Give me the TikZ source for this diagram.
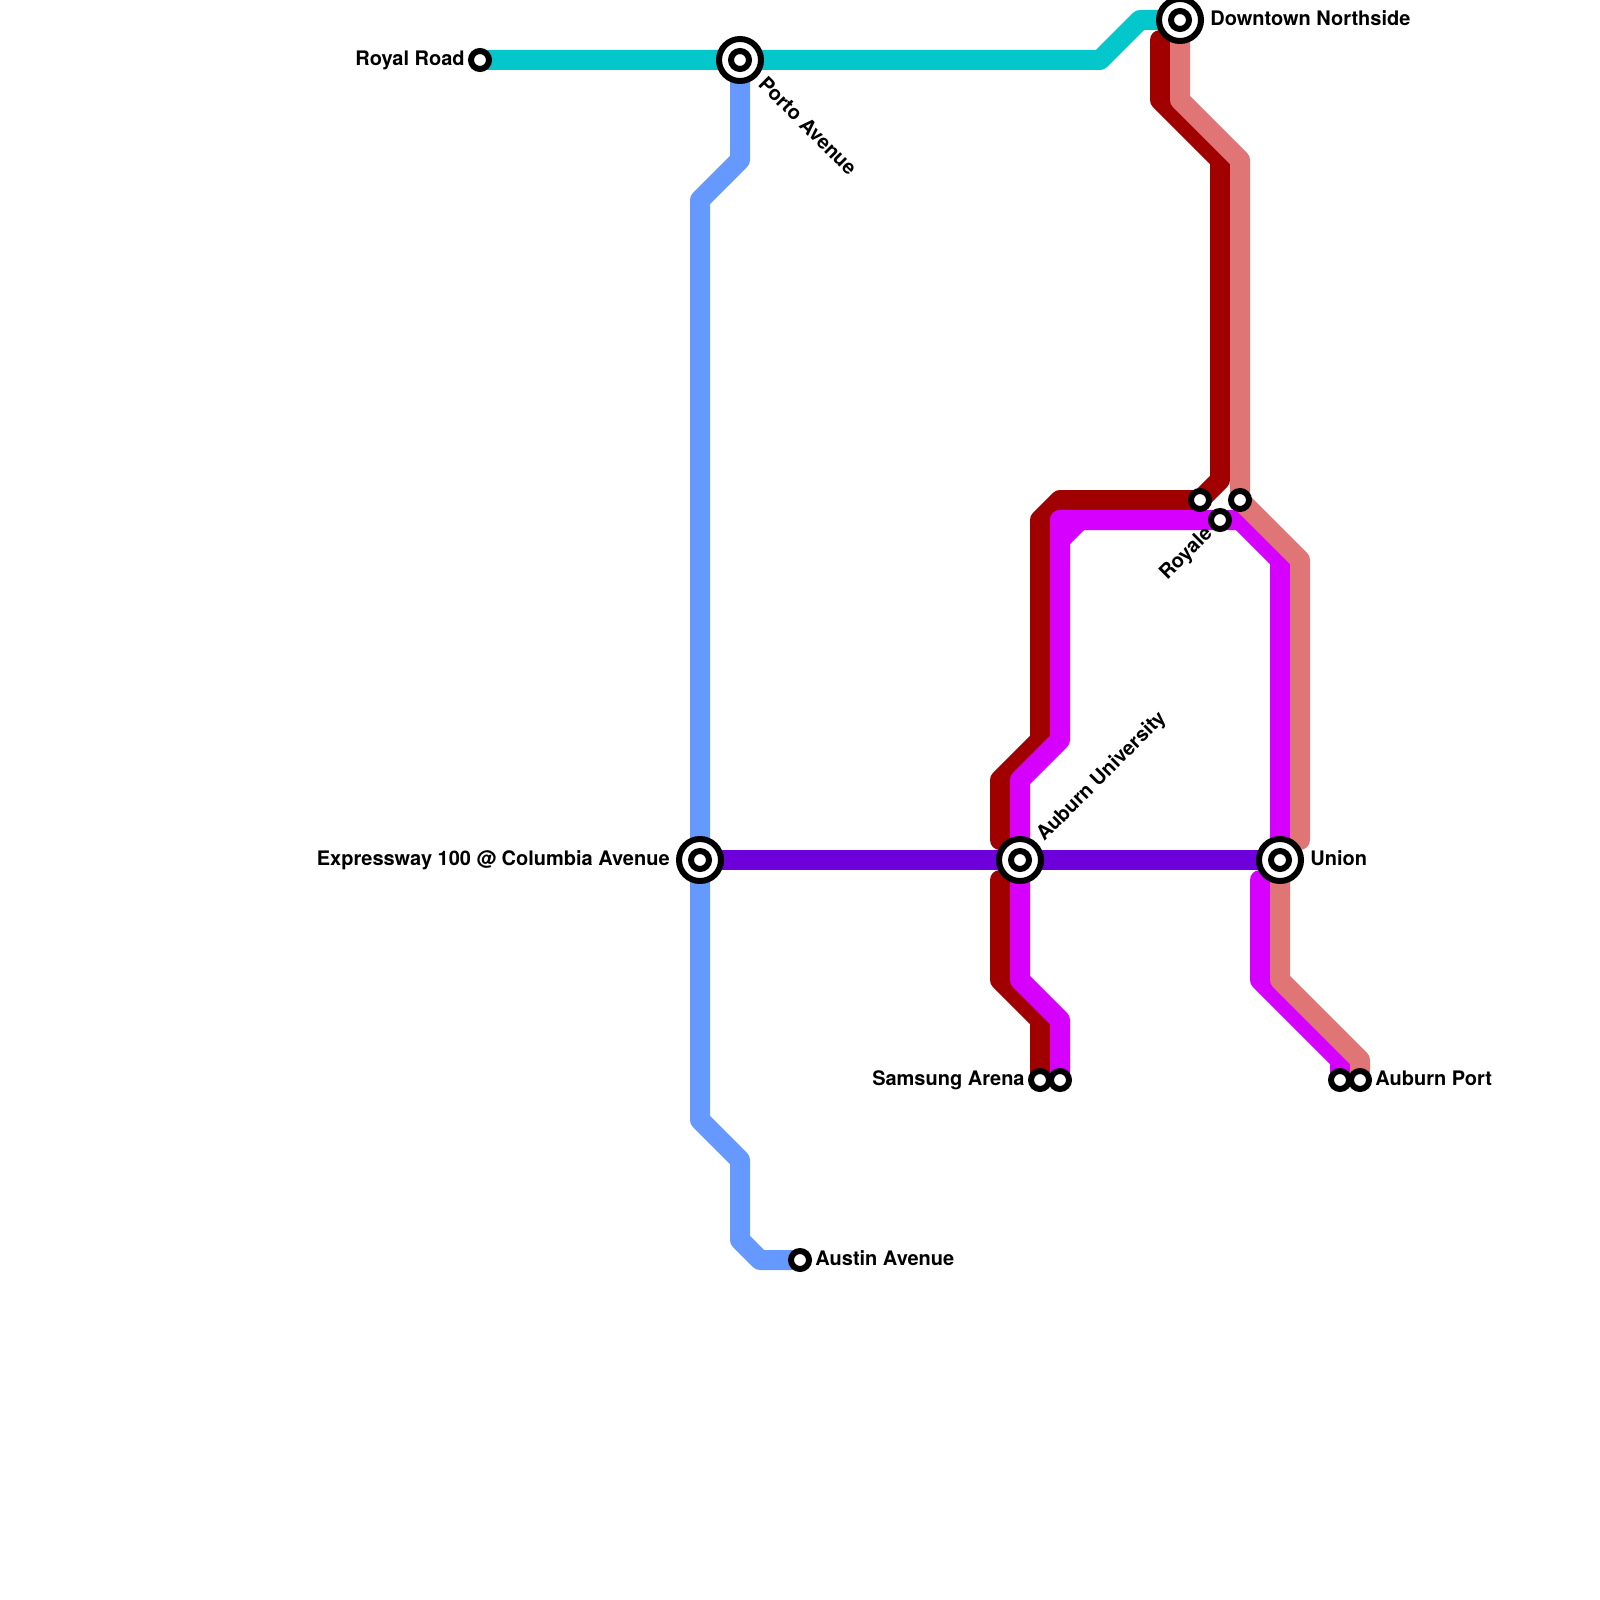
\documentclass[tikz,border=0pt]{standalone}
\usepackage{fontspec}
\setmainfont{TeX Gyre Heros}
\pgfdeclarelayer{lines}
\pgfsetlayers{lines,main}
\definecolor{cTeal}{HTML}{04C7CC}
\definecolor{cBlue}{HTML}{6699FF}
\definecolor{cPurple}{HTML}{6E00DC}
\definecolor{cDark}{HTML}{A00000}
\definecolor{cMag}{HTML}{D500FF}
\definecolor{cLight}{HTML}{E07575}
\tikzset{
  x=0.5pt,y=-0.5pt,
  metro/.style={line width=10pt,line join=round,line cap=round},
  stop/.style={circle,draw=black,fill=white,line width=3pt,inner sep=0pt,minimum size=9pt},
  hub/.style={circle,draw=black,fill=white,line width=3pt,inner sep=0pt,minimum size=21pt},
  lab/.style={font=\bfseries\fontsize{10}{12}\selectfont,text=black,inner sep=0pt}
}
\begin{document}
\begin{tikzpicture}
\useasboundingbox (0,0) rectangle (1600,1600);
% stations
\node[stop] (royal) at (480,60) {};
\node[hub] (porto) at (740,60) {};
\node[stop] (portoI) at (740,60) {};
\node[hub] (express) at (700,860) {};
\node[stop] (expressI) at (700,860) {};
\node[hub] (univ) at (1020,860) {};
\node[stop] (univI) at (1020,860) {};
\node[hub] (union) at (1280,860) {};
\node[stop] (unionI) at (1280,860) {};
\node[hub] (down) at (1180,20) {};
\node[stop] (downI) at (1180,20) {};
\node[stop] (austin) at (800,1260) {};
\node[stop] (samA) at (1040,1080) {};
\node[stop] (samB) at (1060,1080) {};
\node[stop] (portA) at (1340,1080) {};
\node[stop] (portB) at (1360,1080) {};
\node[stop] (royA) at (1200,500) {};
\node[stop] (royB) at (1220,520) {};
\node[stop] (royC) at (1240,500) {};
% free ends of the line sections that stop short of a hub
\coordinate (darkTop) at (1160,40);
\coordinate (darkUp) at (1000,840);
\coordinate (darkLow) at (1000,880);
\coordinate (lightUp) at (1300,840);
\coordinate (lightLow) at (1280,880);
\coordinate (magLow) at (1260,880);
% lines
\begin{pgfonlayer}{lines}
\draw[metro,cTeal] (royal.center) -- (porto.center) -- (1100,60) -- (1140,20) -- (down.center);
\draw[metro,cBlue] (porto.center) -- (740,160) -- (700,200) -- (express.center) -- (700,1120) -- (740,1160) -- (740,1240) -- (760,1260) -- (austin.center);
\draw[metro,cDark] (darkTop) -- (1160,100) -- (1220,160) -- (1220,480) -- (royA.center) -- (1060,500) -- (1040,520) -- (1040,740) -- (1000,780) -- (darkUp);
\draw[metro,cDark] (darkLow) -- (1000,980) -- (1040,1020) -- (samA.center);
\draw[metro,cMag] (royB.center) -- (1060,520) -- (1060,740) -- (1020,780) -- (univ.center) -- (1020,980) -- (1060,1020) -- (samB.center);
\draw[metro,cMag] (1080,520) -- (1060,520) -- (1060,540) -- cycle;
\draw[metro,cMag] (royB.center) -- (1240,520) -- (1280,560) -- (union.center);
\draw[metro,cMag] (magLow) -- (1260,980) -- (1340,1060) -- (portA.center);
\draw[metro,cLight] (down.center) -- (1180,100) -- (1240,160) -- (royC.center) -- (1300,560) -- (lightUp);
\draw[metro,cLight] (lightLow) -- (1280,980) -- (1360,1060) -- (portB.center);
\draw[metro,cPurple] (express.center) -- (univ.center) -- (union.center);
\end{pgfonlayer}
% labels
\node[lab,anchor=base east] (tRoyal) at (465,65.5) {Royal Road};
\node[lab,anchor=base west,rotate=-45] (tPorto) at (757,85) {Porto Avenue};
\node[lab,anchor=base east] (tExpress) at (670,865) {Expressway 100 @ Columbia Avenue};
\node[lab,anchor=base west,rotate=45] (tUniv) at (1044,842) {Auburn University};
\node[lab,anchor=base west] (tUnion) at (1310,865) {Union};
\node[lab,anchor=base west] (tDown) at (1210,25.5) {Downtown Northside};
\node[lab,anchor=base west,rotate=45] (tRoyale) at (1167,581) {Royale};
\node[lab,anchor=base east] (tSam) at (1025,1085) {Samsung Arena};
\node[lab,anchor=base west] (tPort) at (1375,1085) {Auburn Port};
\node[lab,anchor=base west] (tAustin) at (815,1265) {Austin Avenue};
\end{tikzpicture}
\end{document}
